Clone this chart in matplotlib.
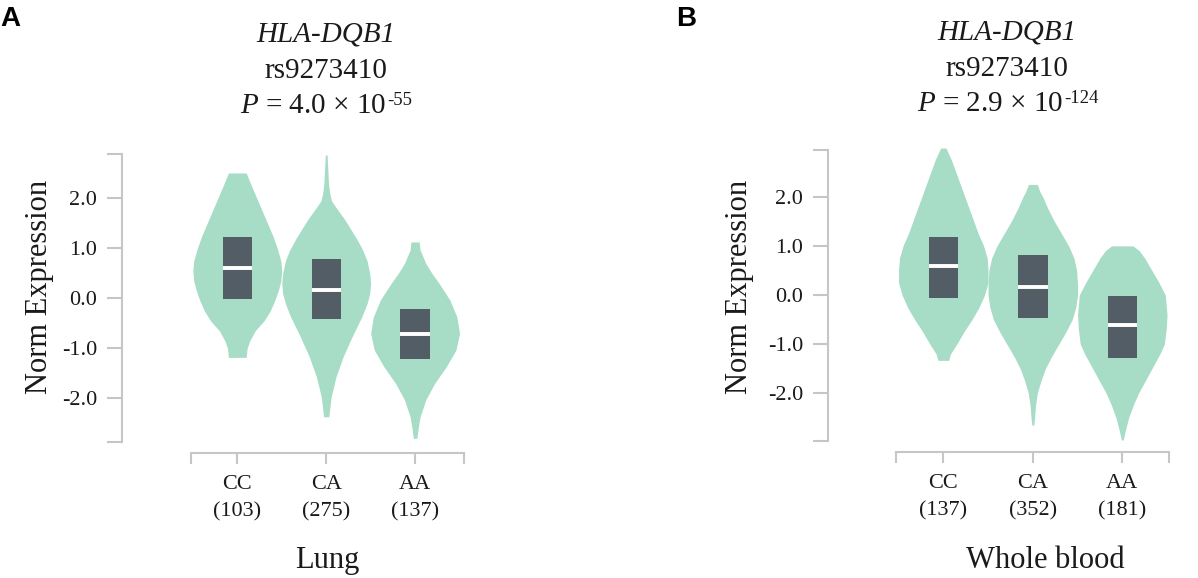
import matplotlib
matplotlib.use("Agg")
import matplotlib.pyplot as plt

plt.rcParams["font.family"] = ["Liberation Serif", "DejaVu Serif"]
plt.rcParams["mathtext.fontset"] = "custom"
plt.rcParams["mathtext.rm"] = "Liberation Serif"
plt.rcParams["mathtext.it"] = "Liberation Serif:italic"

# ---- data ----
GENOTYPES = ["CC", "CA", "AA"]
LUNG_N = [103, 275, 137]
BLOOD_N = [137, 352, 181]
Y_TICKS = [-2.0, -1.0, 0.0, 1.0, 2.0]
LUNG_P = ("4.0", "-55")
BLOOD_P = ("2.9", "-124")

# violin outlines: expression level and half width (fraction of slot)
LUNG_CC_Y = [2.51, 2.25, 2.00, 1.75, 1.50, 1.25, 1.00, 0.75, 0.55, 0.35, 0.15, -0.05,
             -0.25, -0.45, -0.65, -0.85, -1.00, -1.18]
LUNG_CC_W = [0.10, 0.16, 0.22, 0.28, 0.34, 0.40, 0.45, 0.49, 0.50, 0.49, 0.46, 0.42,
             0.37, 0.30, 0.20, 0.14, 0.11, 0.10]
LUNG_CA_Y = [2.87, 2.60, 2.30, 2.10, 1.95, 1.77, 1.60, 1.43, 1.20, 0.97, 0.75, 0.50,
             0.30, 0.10, -0.10, -0.37, -0.77, -1.17, -1.57, -1.97, -2.20, -2.37]
LUNG_CA_W = [0.01, 0.018, 0.026, 0.04, 0.06, 0.13, 0.20, 0.26, 0.34, 0.41, 0.46, 0.49,
             0.50, 0.49, 0.46, 0.40, 0.29, 0.19, 0.11, 0.056, 0.04, 0.03]
LUNG_AA_Y = [1.13, 0.97, 0.70, 0.50, 0.30, -0.03, -0.37, -0.70, -1.03, -1.37, -1.70,
             -2.03, -2.37, -2.60, -2.80]
LUNG_AA_W = [0.047, 0.056, 0.12, 0.19, 0.27, 0.39, 0.47, 0.50, 0.46, 0.35, 0.22,
             0.12, 0.056, 0.035, 0.02]

BLOOD_CC_Y = [2.99, 2.75, 2.50, 2.25, 2.00, 1.75, 1.50, 1.25, 1.00, 0.75, 0.50, 0.25,
              0.00, -0.25, -0.50, -0.75, -1.00, -1.20, -1.33]
BLOOD_CC_W = [0.03, 0.09, 0.14, 0.19, 0.24, 0.29, 0.34, 0.39, 0.45, 0.49, 0.50, 0.50,
              0.46, 0.40, 0.32, 0.23, 0.15, 0.08, 0.06]
BLOOD_CA_Y = [2.25, 2.10, 2.00, 1.75, 1.50, 1.25, 1.00, 0.75, 0.50, 0.20, 0.00, -0.25,
              -0.50, -0.75, -1.00, -1.25, -1.50, -1.75, -2.00, -2.25, -2.50, -2.65]
BLOOD_CA_W = [0.05, 0.08, 0.11, 0.17, 0.24, 0.32, 0.40, 0.46, 0.49, 0.50, 0.50, 0.48,
              0.44, 0.37, 0.29, 0.21, 0.14, 0.09, 0.05, 0.03, 0.02, 0.01]
BLOOD_AA_Y = [1.00, 0.90, 0.75, 0.50, 0.25, 0.00, -0.40, -0.70, -1.00, -1.20, -1.40,
              -1.70, -2.00, -2.25, -2.50, -2.75, -2.95]
BLOOD_AA_W = [0.12, 0.19, 0.25, 0.33, 0.41, 0.48, 0.50, 0.49, 0.47, 0.42, 0.36,
              0.27, 0.18, 0.12, 0.07, 0.035, 0.01]

# boxes: upper quartile, median, lower quartile
LUNG_Q3 = [1.22, 0.78, -0.21]
LUNG_MED = [0.61, 0.16, -0.72]
LUNG_Q1 = [-0.02, -0.42, -1.22]
BLOOD_Q3 = [1.17, 0.81, -0.02]
BLOOD_MED = [0.585, 0.17, -0.62]
BLOOD_Q1 = [-0.07, -0.47, -1.29]

VIOLIN_COLOR = "#a7dcc7"
BOX_COLOR = "#535d65"
AXIS_COLOR = "#c6c6c6"
TEXT_COLOR = "#1a1a1a"
BOX_HALF = 0.165

W, H = 1198, 578
fig = plt.figure(figsize=(W / 100, H / 100), dpi=100)
renderer = fig.canvas.get_renderer()


def px_axes(x0, y0, x1, y1):
	return fig.add_axes([x0 / W, 1 - y1 / H, (x1 - x0) / W, (y1 - y0) / H])


def fig_text(x, y, s, **kw):
	kw.setdefault("color", TEXT_COLOR)
	return fig.text(x / W, 1 - y / H, s, **kw)


def p_line(cx, base, value, exponent):
	# main part and superscript placed side by side, centred on cx
	main = fig_text(0, base, rf"$\mathit{{P}}$ = {value} × 10", fontsize=21,
		ha="left", va="baseline")
	sup = fig_text(0, base - 8, exponent, fontsize=13.5, ha="left", va="baseline")
	w1 = main.get_window_extent(renderer).width
	w2 = sup.get_window_extent(renderer).width
	x0 = cx - (w1 + w2) / 2
	main.set_x(x0 / W)
	sup.set_x((x0 + w1 + 1) / W)


def draw_panel(lay, violins, q1, med, q3, counts, p_val, tissue):
	unit, cat0 = lay["unit"], lay["cat0"]

	ax = px_axes(lay["yaxis_x"], lay["top"], lay["xr"], lay["bot"])
	ax.set_facecolor("none")
	ax.set_xlim((lay["yaxis_x"] - cat0) / unit, (lay["xr"] - cat0) / unit)
	ax.set_ylim(*lay["ylim"])
	for i, (ys, ws) in enumerate(violins):
		ax.fill_betweenx(ys, [i - w for w in ws], [i + w for w in ws],
			color=VIOLIN_COLOR, lw=0, clip_on=False)
	ax.bar(range(3), [t - b for t, b in zip(q3, q1)], bottom=q1,
		width=2 * BOX_HALF, color=BOX_COLOR, lw=0)
	ax.hlines(med, [i - BOX_HALF for i in range(3)], [i + BOX_HALF for i in range(3)],
		color="white", lw=2.8)

	for s in ("top", "right", "bottom"):
		ax.spines[s].set_visible(False)
	ax.spines["left"].set_color(AXIS_COLOR)
	ax.spines["left"].set_linewidth(1.5)
	ax.set_xticks([])
	ax.set_yticks(Y_TICKS)
	ax.set_yticklabels([f"{v:.1f}" for v in Y_TICKS], fontsize=16, color=TEXT_COLOR)
	ax.set_yticks(list(lay["ylim"]), minor=True)
	ax.tick_params(axis="y", which="both", length=10.5, width=1.5,
		color=AXIS_COLOR, pad=7.5)

	bx = px_axes(lay["xl"], lay["xaxis_y"] - 1, lay["xr"], lay["xaxis_y"])
	bx.set_facecolor("none")
	bx.set_xlim((lay["xl"] - cat0) / unit, (lay["xr"] - cat0) / unit)
	for s in ("top", "right", "left"):
		bx.spines[s].set_visible(False)
	bx.spines["bottom"].set_color(AXIS_COLOR)
	bx.spines["bottom"].set_linewidth(1.5)
	bx.set_yticks([])
	bx.set_xticks(range(3))
	bx.set_xticklabels([f"{g}\n({n})" for g, n in zip(GENOTYPES, counts)],
		fontsize=16, color=TEXT_COLOR, linespacing=1.6)
	bx.set_xticks(list(bx.get_xlim()), minor=True)
	bx.tick_params(axis="x", which="both", length=8, width=1.5,
		color=AXIS_COLOR, pad=7.5)

	tx = lay["title_x"]
	b1, b2, b3 = lay["title_base"]
	fig_text(tx, b1, "HLA-DQB1", fontsize=21, style="italic", ha="center", va="baseline")
	fig_text(tx, b2, "rs9273410", fontsize=21, ha="center", va="baseline")
	p_line(tx, b3, *p_val)
	fig_text(lay["ylabel_x"], 287, "Norm Expression", fontsize=22, rotation=90,
		ha="center", va="center")
	fig_text(lay["xlabel_x"], 568, tissue, fontsize=22, ha="center", va="baseline")
	fig_text(lay["letter_x"], 6, lay["letter"], fontsize=20, fontweight="bold",
		family="Liberation Sans", color="black", ha="left", va="top")


LAYOUT_A = dict(yaxis_x=122, cat0=237.3, unit=88.9, top=154, bot=442.3, ylim=(-2.88, 2.89),
	xaxis_y=453.3, xl=190.7, xr=464, title_x=326, title_base=(41.7, 77.7, 112.7),
	ylabel_x=40, xlabel_x=327, letter_x=0, letter="A")
LAYOUT_B = dict(yaxis_x=828.3, cat0=943.3, unit=89.5, top=150, bot=441, ylim=(-2.97, 2.95),
	xaxis_y=452.3, xl=896, xr=1169.3, title_x=1007, title_base=(39.5, 76, 111),
	ylabel_x=740, xlabel_x=1045, letter_x=676, letter="B")

draw_panel(LAYOUT_A,
	[(LUNG_CC_Y, LUNG_CC_W), (LUNG_CA_Y, LUNG_CA_W), (LUNG_AA_Y, LUNG_AA_W)],
	LUNG_Q1, LUNG_MED, LUNG_Q3, LUNG_N, LUNG_P, "Lung")
draw_panel(LAYOUT_B,
	[(BLOOD_CC_Y, BLOOD_CC_W), (BLOOD_CA_Y, BLOOD_CA_W), (BLOOD_AA_Y, BLOOD_AA_W)],
	BLOOD_Q1, BLOOD_MED, BLOOD_Q3, BLOOD_N, BLOOD_P, "Whole blood")

fig.savefig("out.png", dpi=100)
